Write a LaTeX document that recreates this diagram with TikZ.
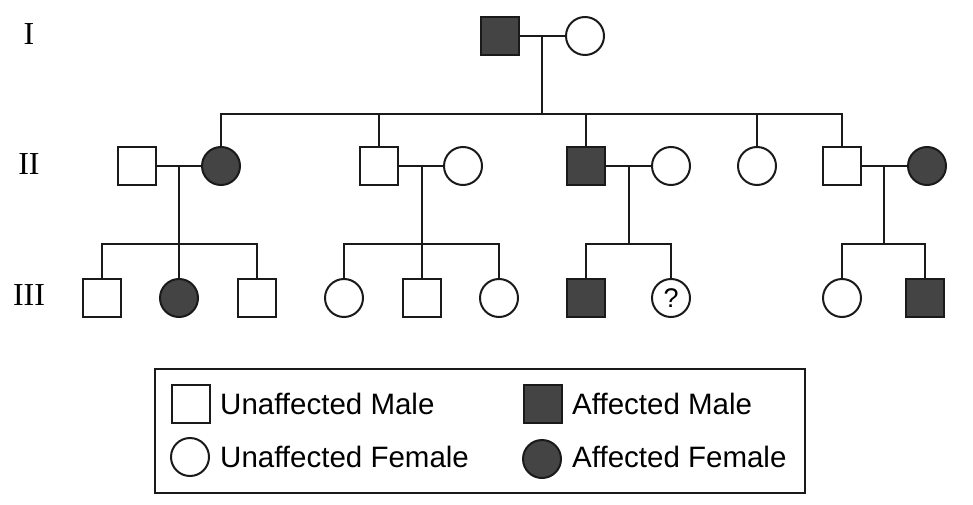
\documentclass[tikz,border=0pt]{standalone}
\usepackage{fontspec}
\newfontfamily\legfont{Liberation Sans}
\newfontfamily\genfont{Liberation Serif}
\usetikzlibrary{calc}
\definecolor{aff}{HTML}{444444}
\definecolor{ln}{HTML}{1A1A1A}
\tikzset{
  line/.style={draw=ln, line width=2pt},
  male/.style={rectangle, draw=ln, line width=2pt, fill=white, minimum size=38pt, inner sep=0pt},
  female/.style={circle, draw=ln, line width=2pt, fill=white, minimum size=38pt, inner sep=0pt},
  affm/.style={male, fill=aff},
  afff/.style={female, fill=aff},
  genlab/.style={font=\genfont\fontsize{32}{36}\selectfont, inner sep=0pt},
  legtext/.style={font=\legfont\fontsize{29.5}{34}\selectfont, anchor=base west, inner sep=0pt},
}
\begin{document}
\begin{tikzpicture}[x=1pt, y=-1pt]
\useasboundingbox (0,0) rectangle (973,505);
% generation labels
\node[genlab] (gI) at (29,34) {I};
\node[genlab] (gII) at (29,164) {II};
\node[genlab] (gIII) at (29,295) {III};
% generation I
\node[affm] (I1) at (500,36) {};
\node[female] (I2) at (585,36) {};
% generation II
\node[male] (II1) at (137,166) {};
\node[afff] (II2) at (221,166) {};
\node[male] (II3) at (379,166) {};
\node[female] (II4) at (463,166) {};
\node[affm] (II5) at (586,166) {};
\node[female] (II6) at (671,166) {};
\node[female] (II7) at (757,166) {};
\node[male] (II8) at (842,166) {};
\node[afff] (II9) at (927,166) {};
% generation III
\node[male] (III1) at (102,298) {};
\node[afff] (III2) at (179,298) {};
\node[male] (III3) at (257,298) {};
\node[female] (III4) at (344,298) {};
\node[male] (III5) at (422,298) {};
\node[female] (III6) at (499,298) {};
\node[affm] (III7) at (586,298) {};
\node[female, font=\legfont\fontsize{27}{30}\selectfont] (III8) at (671,298) {?};
\node[female] (III9) at (842,298) {};
\node[affm] (III10) at (925,298) {};
% marriage midpoints and sibship lines
\coordinate (m1) at (542,36);
\coordinate (m2) at (179,166);
\coordinate (m3) at (422,166);
\coordinate (m4) at (629,166);
\coordinate (m5) at (884,166);
\coordinate (sib) at (542,114);
\coordinate (c2) at (179,244);
\coordinate (c3) at (422,244);
\coordinate (c4) at (629,244);
\coordinate (c5) at (884,244);
% connectors generation I
\draw[line] (I1) -- (I2);
\draw[line] (m1) -- (sib);
\draw[line] (II2.north) |- (sib) -| (II8.north);
\draw[line] (II3.north) -- (II3.north |- sib);
\draw[line] (II5.north) -- (II5.north |- sib);
\draw[line] (II7.north) -- (II7.north |- sib);
% family 1
\draw[line] (II1) -- (II2);
\draw[line] (m2) -- (III2.north);
\draw[line] (III1.north) |- (c2) -| (III3.north);
% family 2
\draw[line] (II3) -- (II4);
\draw[line] (m3) -- (III5.north);
\draw[line] (III4.north) |- (c3) -| (III6.north);
% family 3
\draw[line] (II5) -- (II6);
\draw[line] (m4) -- (c4);
\draw[line] (III7.north) |- (c4) -| (III8.north);
% family 4
\draw[line] (II8) -- (II9);
\draw[line] (m5) -- (c5);
\draw[line] (III9.north) |- (c5) -| (III10.north);
% legend
\node[draw=ln, line width=1.8pt, minimum width=650pt, minimum height=124pt, inner sep=0pt] (legend) at (480,431) {};
\node[male] (L1) at (191,404) {};
\node[female] (L2) at (190,457) {};
\node[affm] (L3) at (543,404) {};
\node[afff] (L4) at (542,459) {};
\node[legtext] (T1) at (220,414) {Unaffected Male};
\node[legtext] (T2) at (220,467) {Unaffected Female};
\node[legtext] (T3) at (572,414) {Affected Male};
\node[legtext] (T4) at (572,467) {Affected Female};
\end{tikzpicture}
\end{document}
